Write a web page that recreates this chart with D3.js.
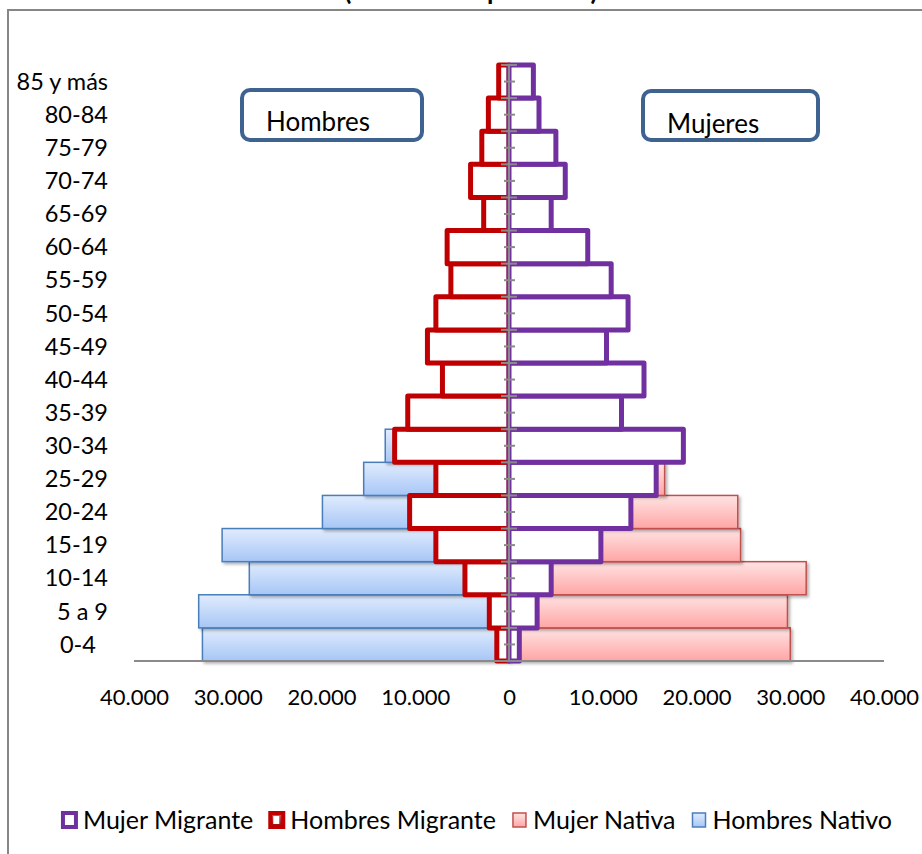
<!DOCTYPE html>
<html>
<head>
<meta charset="utf-8">
<script src="https://cdn.jsdelivr.net/npm/d3@7/dist/d3.min.js"></script>
<style>
  html, body { margin: 0; padding: 0; background: #fff; overflow: hidden; }
  svg { display: block; font-family: Lato, "Noto Sans", sans-serif; }
</style>
</head>
<body>
<svg id="chart" width="922" height="854"></svg>
<script>
// ---- Data (bottom age group first) ----
const ageGroups = ["0-4","5 a 9","10-14","15-19","20-24","25-29","30-34","35-39","40-44","45-49","50-54","55-59","60-64","65-69","70-74","75-79","80-84","85 y más"];
const ageLabels = ["0-4\u00a0\u00a0","5 a 9","10-14","15-19","20-24","25-29","30-34","35-39","40-44","45-49","50-54","55-59","60-64","65-69","70-74","75-79","80-84","85 y más"];
const hombresNativo   = [32700,33100,27700,30600,19900,15500,13200,9500,6500,5500,5000,4500,4000,2500,2000,1500,1200,800];
const mujerNativa     = [30000,29700,31700,24700,24400,16600,14000,10000,8000,7000,6000,5000,4500,3000,2500,2000,1500,1000];
const hombresMigrante = [1300,2100,4700,7800,10600,7800,12200,10800,7100,8700,7800,6200,6600,2700,4100,2900,2200,1100];
const mujerMigrante   = [1100,3000,4500,9800,13000,15700,18600,12000,14400,10400,12700,10900,8400,4500,6000,5000,3200,2600];
const xTicks = [-40000,-30000,-20000,-10000,0,10000,20000,30000,40000];
const titleText = "(Número de personas)";
const sideLabels = ["Hombres","Mujeres"];
const legendNames = ["Mujer Migrante","Hombres Migrante","Mujer Nativa","Hombres Nativo"];

const svg = d3.select("#chart");
const defs = svg.append("defs");

function vgrad(id, c1, c2) {
  const g = defs.append("linearGradient").attr("id", id).attr("x1", 0).attr("y1", 0).attr("x2", 0).attr("y2", 1);
  g.append("stop").attr("offset", "0%").attr("stop-color", c1);
  g.append("stop").attr("offset", "100%").attr("stop-color", c2);
}
vgrad("gBlue", "#e1ecfd", "#a7c6f6");
vgrad("gPink", "#ffe4e4", "#ffa5a5");
vgrad("gRed", "#e06060", "#9a0000");
const f = defs.append("filter").attr("id", "shadow").attr("x", "-5%").attr("y", "-20%").attr("width", "115%").attr("height", "150%");
f.append("feDropShadow").attr("dx", 2).attr("dy", 2).attr("stdDeviation", 1.5).attr("flood-color", "#000").attr("flood-opacity", 0.3);

// Chart border
svg.append("rect").attr("x", 8).attr("y", 10).attr("width", 1000).attr("height", 1000)
  .attr("fill", "none").attr("stroke", "#868686").attr("stroke-width", 2);

// Title (mostly above the visible area, as in the reference)
svg.append("text").attr("x", 471).attr("y", 0).attr("text-anchor", "middle")
  .attr("font-weight", "bold").attr("font-size", 26).attr("fill", "#000").text(titleText);

// Scales
const x = d3.scaleLinear().domain([-40000, 40000]).range([134, 884]);
const y = d3.scaleBand().domain(ageGroups).range([661, 65]).padding(0);
const bw = y.bandwidth();

const rows = ageGroups.map((g, i) => ({ g, hn: hombresNativo[i], mn: mujerNativa[i], hm: hombresMigrante[i], mm: mujerMigrante[i] }));

// Native bars
svg.append("g").selectAll("rect").data(rows).join("rect")
  .attr("x", d => x(-d.hn)).attr("y", d => y(d.g))
  .attr("width", d => x(0) - x(-d.hn)).attr("height", bw)
  .attr("fill", "url(#gBlue)").attr("stroke", "#4a7ebb").attr("stroke-width", 1.5)
  .attr("filter", "url(#shadow)");
svg.append("g").selectAll("rect").data(rows).join("rect")
  .attr("x", x(0)).attr("y", d => y(d.g))
  .attr("width", d => x(d.mn) - x(0)).attr("height", bw)
  .attr("fill", "url(#gPink)").attr("stroke", "#c0504d").attr("stroke-width", 1.5)
  .attr("filter", "url(#shadow)");

// Migrant bars (white fill, thick outline)
svg.append("g").selectAll("rect").data(rows).join("rect")
  .attr("x", d => x(-d.hm)).attr("y", d => y(d.g))
  .attr("width", d => x(0) - x(-d.hm)).attr("height", bw)
  .attr("fill", "#fff").attr("stroke", "#c00000").attr("stroke-width", 5)
  .attr("stroke-linejoin", "round");
svg.append("g").selectAll("rect").data(rows).join("rect")
  .attr("x", x(0)).attr("y", d => y(d.g))
  .attr("width", d => x(d.mm) - x(0)).attr("height", bw)
  .attr("fill", "#fff").attr("stroke", "#7030a0").attr("stroke-width", 5)
  .attr("stroke-linejoin", "round");

// Vertical category axis at 0
const ax = svg.append("g");
ax.append("line").attr("x1", x(0)).attr("x2", x(0)).attr("y1", 65).attr("y2", 661)
  .attr("stroke", "#8a8a8a").attr("stroke-width", 2);
const bounds = ageGroups.map(g => y(g)).concat([y(ageGroups[0]) + bw]);
ax.selectAll("line.b").data(bounds).join("line").attr("class", "b")
  .attr("x1", x(0) - 8).attr("x2", x(0) + 8).attr("y1", d => d).attr("y2", d => d)
  .attr("stroke", "#8a8a8a").attr("stroke-width", 2);
ax.selectAll("line.m").data(ageGroups).join("line").attr("class", "m")
  .attr("x1", x(0) - 5).attr("x2", x(0) + 6).attr("y1", d => y(d) + bw / 2).attr("y2", d => y(d) + bw / 2)
  .attr("stroke", "#8a8a8a").attr("stroke-width", 2);

// Category labels
svg.append("g").selectAll("text").data(ageGroups).join("text")
  .attr("x", 108).attr("y", d => y(d) + bw / 2).attr("dy", "0.35em")
  .attr("text-anchor", "end").attr("font-size", 23.5).attr("fill", "#000")
  .style("white-space", "pre")
  .text((d, i) => ageLabels[i]);

// Horizontal baseline
svg.append("line").attr("x1", 134).attr("x2", 884).attr("y1", 661).attr("y2", 661)
  .attr("stroke", "#8a8a8a").attr("stroke-width", 2);

// X axis labels
const loc = d3.formatLocale({ decimal: ",", thousands: ".", grouping: [3], currency: ["", ""] });
const fmt = loc.format(",");
const xAxis = d3.axisBottom(x).tickValues(xTicks).tickSize(0).tickPadding(0)
  .tickFormat(d => fmt(Math.abs(d)));
const xg = svg.append("g").attr("transform", "translate(0,697)").call(xAxis);
xg.select(".domain").remove();
xg.selectAll("text").attr("font-size", 22).attr("font-family", "Lato, 'Noto Sans', sans-serif")
  .attr("fill", "#000").attr("dy", "0.35em").attr("y", 0);

// Side label boxes
const boxes = [
  { t: sideLabels[0], x: 242, y: 90, w: 180, h: 50, tx: 266, ty: 131 },
  { t: sideLabels[1], x: 643, y: 91, w: 175, h: 49, tx: 667, ty: 133 }
];
const bg = svg.append("g").selectAll("g").data(boxes).join("g");
bg.append("rect").attr("x", d => d.x).attr("y", d => d.y).attr("width", d => d.w).attr("height", d => d.h)
  .attr("rx", 8).attr("fill", "#fff").attr("stroke", "#3e6391").attr("stroke-width", 4);
bg.append("text").attr("x", d => d.tx).attr("y", d => d.ty).attr("font-size", 26).attr("fill", "#000").text(d => d.t);

// Legend
const legendStyles = [
  { fill: "#fff", stroke: "#7030a0", sw: 4 },
  { fill: "url(#gRed)", stroke: "#c00000", sw: 4, inner: true },
  { fill: "url(#gPink)", stroke: "#c0504d", sw: 1.5 },
  { fill: "url(#gBlue)", stroke: "#4a7ebb", sw: 1.5 }
];
const lg = svg.append("g");
let cx = 0;
legendNames.forEach((n, i) => {
  const g = lg.append("g").attr("transform", `translate(${cx},0)`);
  const s = legendStyles[i];
  g.append("rect").attr("x", 1).attr("y", -7).attr("width", 13).attr("height", 14)
    .attr("fill", s.fill).attr("stroke", s.stroke).attr("stroke-width", s.sw);
  if (s.inner) {
    g.append("rect").attr("x", 4).attr("y", -4).attr("width", 6).attr("height", 8).attr("fill", "#fff");
  }
  const t = g.append("text").attr("x", 21).attr("y", 0).attr("dy", "0.35em")
    .attr("font-size", 25).attr("fill", "#000").text(n);
  const w = t.node().getComputedTextLength();
  cx += 21 + w + 16;
});
const totalW = cx - 16;
lg.attr("transform", `translate(${477 - totalW / 2},820)`);
</script>
</body>
</html>
